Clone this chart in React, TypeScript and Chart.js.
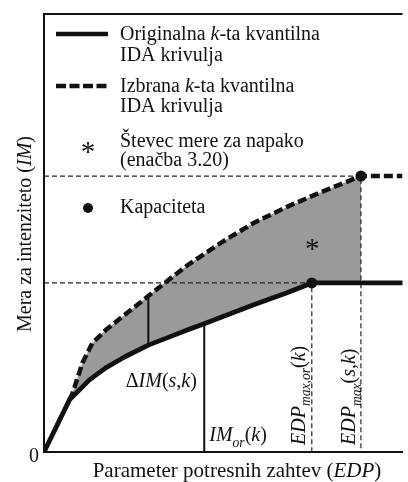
import React, { useEffect, useRef } from 'react';
import { Chart, registerables } from 'chart.js';

Chart.register(...registerables);

// ---- data (axis units: 0..100 on both axes) ----
const originalX = [0, 7.1, 12.6, 17.2, 22.7, 29.1, 35.4, 40.1, 44.7, 49.2, 58.5, 67.6, 74.7, 100];
const originalY = [0, 11.9, 16.4, 19.2, 21.8, 24.4, 26.4, 27.9, 29.3, 30.7, 33.6, 36.3, 38.6, 38.6];
const selectedX = [7.1, 8.0, 10.7, 13.5, 17.3, 22.8, 29.1, 35.4, 40.1, 49.2, 58.5, 67.6, 76.6, 88.4, 100];
const selectedY = [11.9, 13.5, 20.3, 24.9, 27.9, 31.5, 35.6, 39.7, 42.7, 47.7, 52.3, 55.9, 59.1, 63.0, 63.0];
const capacityX = [74.7, 88.4];
const capacityY = [38.6, 63.0];
const deltaMarkerX = [29.1];
const imOrMarkerX = [44.7];
const errorMarker = [74.8, 47.7];
const axisMin = [0, 0];
const axisMax = [100, 100];

const FONT = "'Liberation Serif', 'DejaVu Serif', serif";
const FS = 20;

type Part = { t: string; it?: boolean; sub?: boolean };

function fontFor(p: Part, size: number) {
  const s = p.sub ? size * 0.68 : size;
  return `${p.it ? 'italic ' : ''}${s}px ${FONT}`;
}

function drawRich(ctx: CanvasRenderingContext2D, parts: Part[], x: number, y: number, size: number, align: 'left' | 'center', rot = 0) {
  ctx.save();
  ctx.translate(x, y);
  ctx.rotate(rot);
  ctx.textBaseline = 'alphabetic';
  ctx.textAlign = 'left';
  ctx.fillStyle = '#111';
  let w = 0;
  for (const p of parts) {
    ctx.font = fontFor(p, size);
    w += ctx.measureText(p.t).width;
  }
  let cx = align === 'center' ? -w / 2 : 0;
  for (const p of parts) {
    ctx.font = fontFor(p, size);
    ctx.fillText(p.t, cx, p.sub ? size * 0.28 : 0);
    cx += ctx.measureText(p.t).width;
  }
  ctx.restore();
}

function valueAt(xs: number[], ys: number[], x: number) {
  const i = xs.indexOf(x);
  return ys[i];
}

const overlayPlugin = {
  id: 'overlay',
  afterDatasetsDraw(chart: any) {
    const ctx: CanvasRenderingContext2D = chart.ctx;
    const { left, top, right, bottom } = chart.chartArea;
    const xs = chart.scales.x;
    const ys = chart.scales.y;
    ctx.save();
    ctx.strokeStyle = '#111';
    ctx.lineWidth = 2;
    ctx.beginPath();
    ctx.moveTo(left - 1, top);
    ctx.lineTo(right, top);
    ctx.stroke();

    // legend
    const lx0 = left + 12;
    const lx1 = left + 64;
    const mx = left + 44;
    const tx = left + 76;
    ctx.lineWidth = 4.5;
    ctx.setLineDash([]);
    ctx.beginPath();
    ctx.moveTo(lx0, top + 20);
    ctx.lineTo(lx1, top + 20);
    ctx.stroke();
    ctx.setLineDash([10, 3.5]);
    ctx.beginPath();
    ctx.moveTo(lx0, top + 72);
    ctx.lineTo(lx1, top + 72);
    ctx.stroke();
    ctx.setLineDash([]);
    drawRich(ctx, [{ t: 'Originalna ' }, { t: 'k', it: true }, { t: '-ta kvantilna' }], tx, top + 26, FS, 'left');
    drawRich(ctx, [{ t: 'IDA krivulja' }], tx, top + 47, FS, 'left');
    drawRich(ctx, [{ t: 'Izbrana ' }, { t: 'k', it: true }, { t: '-ta kvantilna' }], tx, top + 78, FS, 'left');
    drawRich(ctx, [{ t: 'IDA krivulja' }], tx, top + 98, FS, 'left');
    drawRich(ctx, [{ t: '*' }], mx, top + 147, 29, 'center');
    drawRich(ctx, [{ t: 'Števec mere za napako' }], tx, top + 133, FS, 'left');
    drawRich(ctx, [{ t: '(enačba 3.20)' }], tx, top + 152, FS, 'left');
    ctx.fillStyle = '#111';
    ctx.beginPath();
    ctx.arc(mx, top + 194, 5, 0, Math.PI * 2);
    ctx.fill();
    drawRich(ctx, [{ t: 'Kapaciteta' }], tx, top + 199, FS, 'left');

    drawRich(ctx, [{ t: '*' }], xs.getPixelForValue(errorMarker[0]), ys.getPixelForValue(errorMarker[1]) + 15, 29, 'center');

    const dX = xs.getPixelForValue(deltaMarkerX[0]);
    drawRich(ctx, [{ t: 'Δ' }, { t: 'IM', it: true }, { t: '(' }, { t: 's', it: true }, { t: ',' }, { t: 'k', it: true }, { t: ')' }], dX + 13, bottom - 65, FS, 'center');
    const iX = xs.getPixelForValue(imOrMarkerX[0]);
    drawRich(ctx, [{ t: 'IM', it: true }, { t: 'or', it: true, sub: true }, { t: '(' }, { t: 'k', it: true }, { t: ')' }], iX + 5, bottom - 11, FS, 'left');
    const c0 = xs.getPixelForValue(capacityX[0]);
    const c1 = xs.getPixelForValue(capacityX[1]);
    drawRich(ctx, [{ t: 'EDP', it: true }, { t: 'max,or', it: true, sub: true }, { t: '(' }, { t: 'k', it: true }, { t: ')' }], c0 - 7, bottom - 7, FS, 'left', -Math.PI / 2);
    drawRich(ctx, [{ t: 'EDP', it: true }, { t: 'max', it: true, sub: true }, { t: '(' }, { t: 's', it: true }, { t: ',' }, { t: 'k', it: true }, { t: ')' }], c1 - 6, bottom - 7, FS, 'left', -Math.PI / 2);

    drawRich(ctx, [{ t: '0' }], left - 10, bottom + 10, FS, 'center');
    drawRich(ctx, [{ t: 'Parameter potresnih zahtev (' }, { t: 'EDP', it: true }, { t: ')' }], 237, bottom + 25, 21, 'center');
    drawRich(ctx, [{ t: 'Mera za intenziteto (' }, { t: 'IM', it: true }, { t: ')' }], 31, 234, FS, 'center', -Math.PI / 2);
    ctx.restore();
  },
};

export default function App() {
  const ref = useRef<HTMLCanvasElement>(null);
  useEffect(() => {
    document.body.style.margin = '0';
    let chart: Chart | null = null;
    let cancelled = false;
    const build = () => {
      if (cancelled || !ref.current) return;
      const original = originalX.map((x, i) => ({ x, y: originalY[i] }));
      const selected = selectedX.map((x, i) => ({ x, y: selectedY[i] }));
      const shade = [
        ...selected.filter((p) => p.x <= capacityX[1]),
        { x: capacityX[1], y: capacityY[0] },
        ...original.filter((p) => p.x >= selectedX[0] && p.x <= capacityX[0]).reverse(),
      ];
      const guide0 = [
        { x: axisMin[0], y: capacityY[0] },
        { x: capacityX[0], y: capacityY[0] },
        { x: capacityX[0], y: axisMin[1] },
      ];
      const guide1 = [
        { x: axisMin[0], y: capacityY[1] },
        { x: capacityX[1], y: capacityY[1] },
        { x: capacityX[1], y: axisMin[1] },
      ];
      const deltaLine = [
        { x: deltaMarkerX[0], y: valueAt(originalX, originalY, deltaMarkerX[0]) },
        { x: deltaMarkerX[0], y: valueAt(selectedX, selectedY, deltaMarkerX[0]) },
      ];
      const imOrLine = [
        { x: imOrMarkerX[0], y: axisMin[1] },
        { x: imOrMarkerX[0], y: valueAt(originalX, originalY, imOrMarkerX[0]) },
      ];
      const caps = capacityX.map((x, i) => ({ x, y: capacityY[i] }));
      const base = { type: 'line' as const, pointRadius: 0, tension: 0, fill: false as any };
      chart = new Chart(ref.current, {
        type: 'line',
        data: {
          datasets: [
            { ...base, data: caps, showLine: false, pointRadius: 5.5, pointBackgroundColor: '#111', pointBorderWidth: 0, order: 0 },
            { ...base, data: original, borderColor: '#111', borderWidth: 4.8, borderCapStyle: 'round', borderJoinStyle: 'round', order: 1 },
            { ...base, data: selected, borderColor: '#111', borderWidth: 4.5, borderDash: [9, 4], order: 2 },
            { ...base, data: deltaLine, borderColor: '#111', borderWidth: 2, order: 3 },
            { ...base, data: imOrLine, borderColor: '#111', borderWidth: 2, order: 3 },
            { ...base, data: guide0, borderColor: '#222', borderWidth: 1.2, borderDash: [5, 3], order: 4 },
            { ...base, data: guide1, borderColor: '#222', borderWidth: 1.2, borderDash: [5, 3], order: 4 },
            { ...base, data: shade, borderColor: 'transparent', borderWidth: 0, backgroundColor: '#9a9a9a', fill: 'shape', order: 10 },
          ] as any,
        },
        options: {
          animation: false,
          responsive: false,
          layout: { padding: { left: 44, top: 14, right: 0, bottom: 30 } },
          plugins: { legend: { display: false }, tooltip: { enabled: false } },
          scales: {
            x: {
              type: 'linear', min: axisMin[0], max: axisMax[0],
              grid: { display: false, drawTicks: false },
              ticks: { display: false },
              border: { display: true, color: '#111', width: 2 },
              afterFit: (s: any) => { s.height = 0; },
            },
            y: {
              type: 'linear', min: axisMin[1], max: axisMax[1],
              grid: { display: false, drawTicks: false },
              ticks: { display: false },
              border: { display: true, color: '#111', width: 2 },
              afterFit: (s: any) => { s.width = 0; },
            },
          },
        } as any,
        plugins: [overlayPlugin],
      });
    };
    const fonts = (document as any).fonts;
    if (fonts && fonts.load) {
      Promise.all([
        fonts.load(`20px ${FONT}`, 'Aa'),
        fonts.load(`italic 20px ${FONT}`, 'Aa'),
      ]).then(build, build);
    } else {
      build();
    }
    return () => {
      cancelled = true;
      if (chart) chart.destroy();
    };
  }, []);
  return (
    <div style={{ width: 408, height: 482, background: '#fff' }}>
      <canvas ref={ref} width={408} height={482} style={{ display: 'block' }} />
    </div>
  );
}
